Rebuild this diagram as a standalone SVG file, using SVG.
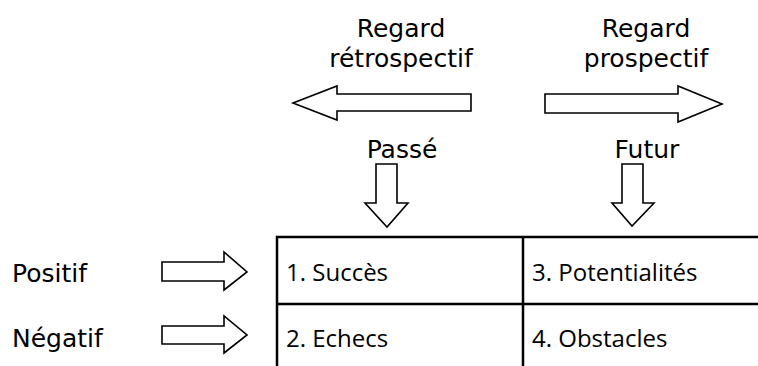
<svg xmlns="http://www.w3.org/2000/svg" width="758" height="366" viewBox="0 0 758 366">
<style>
.lbl{font-family:"DejaVu Sans","Liberation Sans",sans-serif;font-size:25px;fill:#000}
.cell{font-family:"Open Sans","Liberation Sans",sans-serif;font-size:24px;fill:#000}
.arr{fill:#fff;stroke:#000;stroke-width:1.6;stroke-linejoin:miter}
.grid{stroke:#000;stroke-width:2.5;fill:none}
</style>
<rect width="758" height="366" fill="#fff"/>
<g id="retro">
<text class="lbl" x="401" y="37" text-anchor="middle">Regard</text>
<text class="lbl" x="401" y="67" text-anchor="middle">rétrospectif</text>
</g>
<g id="prosp">
<text class="lbl" x="646" y="37" text-anchor="middle">Regard</text>
<text class="lbl" x="646" y="67" text-anchor="middle">prospectif</text>
</g>
<g id="passe"><text class="lbl" x="402" y="158" text-anchor="middle">Passé</text></g>
<g id="futur"><text class="lbl" x="647" y="158" text-anchor="middle">Futur</text></g>
<g id="positif"><text class="lbl" x="12" y="282">Positif</text></g>
<g id="negatif"><text class="lbl" x="12" y="347">Négatif</text></g>
<g id="connectors">
<polygon class="arr" points="471,94 337,94 337,86 293,103 337,120 337,111 471,111"/>
<polygon class="arr" points="545,94 678,94 678,86 722,104 678,122 678,113 545,113"/>
<polygon class="arr" points="376,164 397,164 397,203 408,203 387,227 365,203 376,203"/>
<polygon class="arr" points="622,164 643,164 643,203 654,203 632,226 612,203 622,203"/>
<polygon class="arr" points="162,262 224,262 224,252 247,272 224,290 224,281 162,281"/>
<polygon class="arr" points="162,326 224,326 224,316 247,335 224,353 224,344 162,344"/>
</g>
<g id="table">
<path class="grid" d="M277,366 V237 H758 M277,304 H758 M523,237 V366"/>
<text class="cell" x="286" y="281">1. Succès</text>
<text class="cell" x="532" y="281">3. Potentialités</text>
<text class="cell" x="286" y="347">2. Echecs</text>
<text class="cell" x="532" y="347">4. Obstacles</text>
</g>
</svg>
